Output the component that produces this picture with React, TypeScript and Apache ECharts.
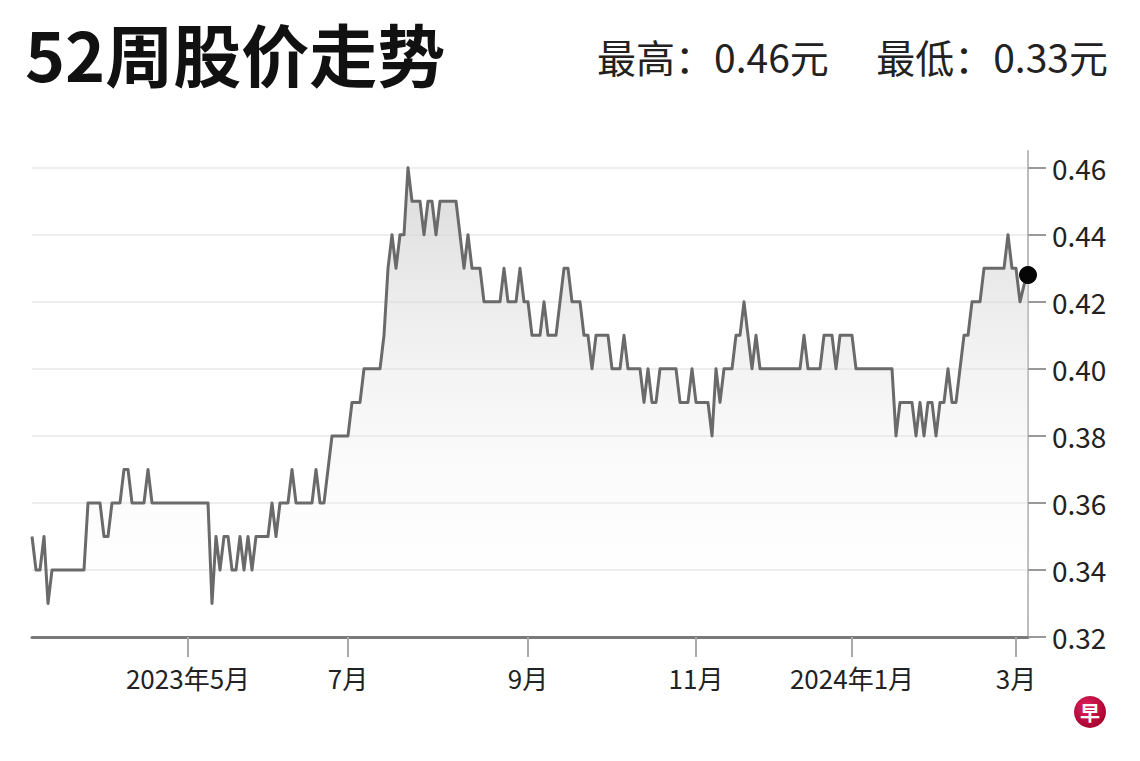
import React, { useEffect, useRef } from 'react';
import * as echarts from 'echarts';

const TITLE = '52周股价走势';

// one value per trading day
const prices = [
  0.35, 0.34, 0.34, 0.35, 0.33, 0.34, 0.34, 0.34, 0.34, 0.34,
  0.34, 0.34, 0.34, 0.34, 0.36, 0.36, 0.36, 0.36, 0.35, 0.35,
  0.36, 0.36, 0.36, 0.37, 0.37, 0.36, 0.36, 0.36, 0.36, 0.37,
  0.36, 0.36, 0.36, 0.36, 0.36, 0.36, 0.36, 0.36, 0.36, 0.36,
  0.36, 0.36, 0.36, 0.36, 0.36, 0.33, 0.35, 0.34, 0.35, 0.35,
  0.34, 0.34, 0.35, 0.34, 0.35, 0.34, 0.35, 0.35, 0.35, 0.35,
  0.36, 0.35, 0.36, 0.36, 0.36, 0.37, 0.36, 0.36, 0.36, 0.36,
  0.36, 0.37, 0.36, 0.36, 0.37, 0.38, 0.38, 0.38, 0.38, 0.38,
  0.39, 0.39, 0.39, 0.40, 0.40, 0.40, 0.40, 0.40, 0.41, 0.43,
  0.44, 0.43, 0.44, 0.44, 0.46, 0.45, 0.45, 0.45, 0.44, 0.45,
  0.45, 0.44, 0.45, 0.45, 0.45, 0.45, 0.45, 0.44, 0.43, 0.44,
  0.43, 0.43, 0.43, 0.42, 0.42, 0.42, 0.42, 0.42, 0.43, 0.42,
  0.42, 0.42, 0.43, 0.42, 0.42, 0.41, 0.41, 0.41, 0.42, 0.41,
  0.41, 0.41, 0.42, 0.43, 0.43, 0.42, 0.42, 0.42, 0.41, 0.41,
  0.40, 0.41, 0.41, 0.41, 0.41, 0.40, 0.40, 0.40, 0.41, 0.40,
  0.40, 0.40, 0.40, 0.39, 0.40, 0.39, 0.39, 0.40, 0.40, 0.40,
  0.40, 0.40, 0.39, 0.39, 0.39, 0.40, 0.39, 0.39, 0.39, 0.39,
  0.38, 0.40, 0.39, 0.40, 0.40, 0.40, 0.41, 0.41, 0.42, 0.41,
  0.40, 0.41, 0.40, 0.40, 0.40, 0.40, 0.40, 0.40, 0.40, 0.40,
  0.40, 0.40, 0.40, 0.41, 0.40, 0.40, 0.40, 0.40, 0.41, 0.41,
  0.41, 0.40, 0.41, 0.41, 0.41, 0.41, 0.40, 0.40, 0.40, 0.40,
  0.40, 0.40, 0.40, 0.40, 0.40, 0.40, 0.38, 0.39, 0.39, 0.39,
  0.39, 0.38, 0.39, 0.38, 0.39, 0.39, 0.38, 0.39, 0.39, 0.40,
  0.39, 0.39, 0.40, 0.41, 0.41, 0.42, 0.42, 0.42, 0.43, 0.43,
  0.43, 0.43, 0.43, 0.43, 0.44, 0.43, 0.43, 0.42, 0.425, 0.428,
];

// trading-day index where each month label sits
const monthTicks = [
  { index: 39, label: '2023年5月' },
  { index: 79, label: '7月' },
  { index: 124, label: '9月' },
  { index: 166, label: '11月' },
  { index: 205, label: '2024年1月' },
  { index: 246, label: '3月' },
];

const yTicks = [0.32, 0.34, 0.36, 0.38, 0.4, 0.42, 0.44, 0.46];

const FONT = '"Noto Sans CJK SC", "Noto Sans", sans-serif';

export default function App() {
  const chartRef = useRef<HTMLDivElement>(null);

  useEffect(() => {
    document.body.style.margin = '0';
    if (!chartRef.current) return;
    const chart = echarts.init(chartRef.current, null, { renderer: 'svg' });

    const high = Math.max(...prices);
    const low = Math.min(...prices);
    const tickLabel = new Map(monthTicks.map((t) => [t.index, t.label]));
    const categories = prices.map((_, i) => tickLabel.get(i) ?? '');
    const last = prices.length - 1;
    const isTick = (i: number) => tickLabel.has(i);

    chart.setOption({
      animation: false,
      grid: { left: 32, right: 112, top: 151, bottom: 124 },
      xAxis: {
        type: 'category',
        data: categories,
        boundaryGap: false,
        axisLine: { lineStyle: { color: '#7a7a7a', width: 3 } },
        axisTick: {
          interval: isTick,
          length: 20,
          lineStyle: { color: '#aaaaaa', width: 2 },
        },
        axisLabel: {
          interval: isTick,
          margin: 27,
          fontSize: 26,
          color: '#222',
          fontFamily: FONT,
        },
        splitLine: { show: false },
      },
      yAxis: {
        type: 'value',
        position: 'right',
        min: 0.32,
        max: 0.465,
        axisLine: { show: true, lineStyle: { color: '#bdbdbd', width: 2 } },
        axisTick: {
          show: true,
          customValues: yTicks,
          length: 18,
          lineStyle: { color: '#999999', width: 2 },
        },
        axisLabel: {
          customValues: yTicks,
          margin: 24,
          fontSize: 28,
          color: '#222',
          fontFamily: FONT,
          formatter: (v: number) => v.toFixed(2),
        },
        splitLine: { lineStyle: { color: '#eeeeee', width: 2 } },
      },
      series: [
        {
          type: 'line',
          data: prices,
          showSymbol: false,
          symbol: 'none',
          lineStyle: { color: '#6a6a6a', width: 3, join: 'round' },
          areaStyle: {
            color: new echarts.graphic.LinearGradient(0, 0, 0, 1, [
              { offset: 0, color: '#cbcbcb' },
              { offset: 1, color: 'rgba(255,255,255,0)' },
            ]),
          },
          z: 3,
        },
        {
          type: 'scatter',
          data: [[last, prices[last]]],
          symbolSize: 18,
          itemStyle: { color: '#050505', opacity: 1 },
          z: 5,
        },
      ],
      graphic: [
        {
          type: 'text',
          x: 25,
          y: 52,
          style: {
            text: TITLE,
            fontSize: 68,
            fontWeight: 'bold',
            fontFamily: FONT,
            fill: '#111',
            verticalAlign: 'middle',
          },
        },
        {
          type: 'text',
          x: 597,
          y: 56,
          style: {
            text: `最高：${high.toFixed(2)}元`,
            fontSize: 39,
            fontFamily: FONT,
            fill: '#222',
            verticalAlign: 'middle',
          },
        },
        {
          type: 'text',
          x: 1108,
          y: 56,
          style: {
            text: `最低：${low.toFixed(2)}元`,
            fontSize: 39,
            fontFamily: FONT,
            fill: '#222',
            align: 'right',
            verticalAlign: 'middle',
          },
        },
        {
          type: 'circle',
          shape: { cx: 1090, cy: 712, r: 16 },
          style: {
            fill: new echarts.graphic.RadialGradient(0.4, 0.35, 0.7, [
              { offset: 0, color: '#e0245e' },
              { offset: 1, color: '#a3002c' },
            ]),
          },
        },
        {
          type: 'text',
          x: 1090,
          y: 712,
          style: {
            text: '早',
            fontSize: 20,
            fontWeight: 'bold',
            fontFamily: FONT,
            fill: '#fff',
            align: 'center',
            verticalAlign: 'middle',
          },
        },
      ],
    });

    return () => {
      chart.dispose();
    };
  }, []);

  return <div ref={chartRef} style={{ width: '1140px', height: '761px' }} />;
}
